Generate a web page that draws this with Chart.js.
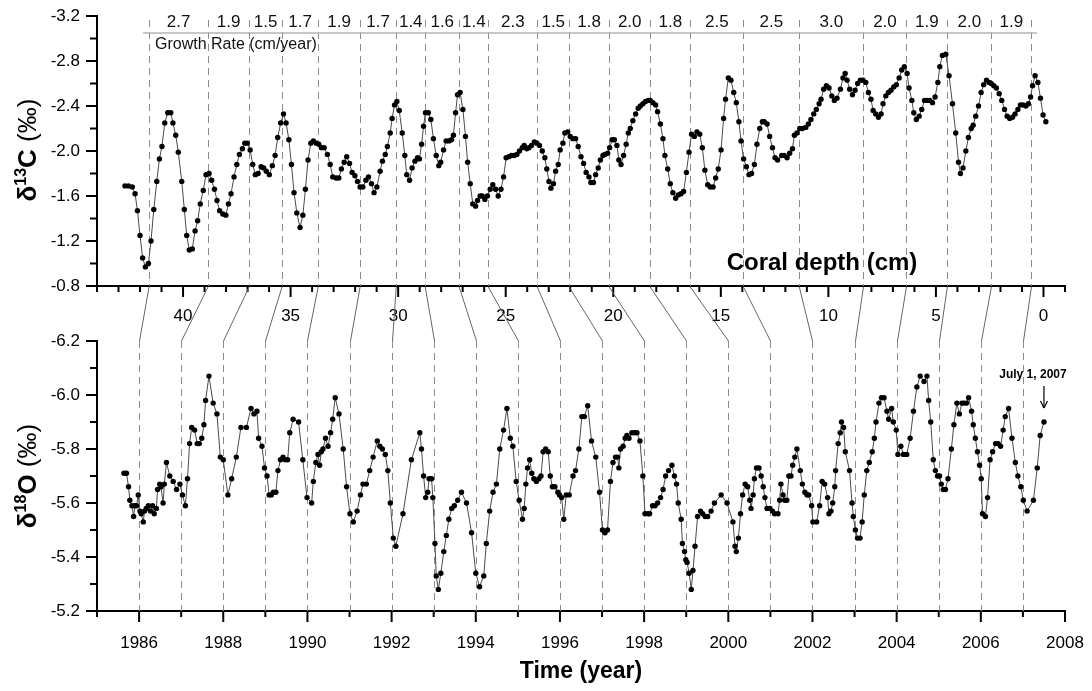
<!DOCTYPE html>
<html>
<head>
<meta charset="utf-8">
<script src="https://cdn.jsdelivr.net/npm/chart.js@4.4.0/dist/chart.umd.min.js"></script>
<style>
  html, body { margin: 0; padding: 0; background: #fff; }
  #wrap { position: relative; width: 1092px; height: 691px; }
  #wrap canvas { position: absolute; left: 0; top: 0; }
</style>
</head>
<body>
<div id="wrap">
  <canvas id="c13Chart" width="1092" height="691"></canvas>
  <canvas id="o18Chart" width="1092" height="691"></canvas>
</div>
<script>
// δ13C against coral depth (cm)
const c13Depth = [
  42.70, 42.54, 42.36, 42.23, 42.12, 42.00, 41.88, 41.75, 41.61, 41.49, 41.36, 41.22, 41.10, 40.98, 40.85, 40.71,
  40.57, 40.47, 40.34, 40.22, 40.06, 39.94, 39.83, 39.71, 39.57, 39.44, 39.32, 39.20, 39.06, 38.93, 38.79, 38.67,
  38.54, 38.42, 38.30, 38.15, 38.01, 37.89, 37.77, 37.63, 37.50, 37.38, 37.24, 37.13, 37.02, 36.88, 36.76, 36.64,
  36.51, 36.37, 36.25, 36.13, 35.99, 35.85, 35.72, 35.60, 35.46, 35.33, 35.21, 35.08, 34.96, 34.84, 34.71, 34.56,
  34.43, 34.31, 34.19, 34.06, 33.94, 33.81, 33.69, 33.57, 33.44, 33.29, 33.16, 33.04, 32.88, 32.76, 32.64, 32.51,
  32.39, 32.26, 32.14, 32.01, 31.89, 31.77, 31.64, 31.50, 31.38, 31.24, 31.12, 30.99, 30.84, 30.73, 30.60, 30.50,
  30.37, 30.28, 30.17, 30.06, 29.95,
  29.81, 29.69, 29.60, 29.47, 29.35, 29.22, 29.10, 29.01, 28.91, 28.82, 28.73, 28.60, 28.48, 28.36, 28.23, 28.11,
  28.02, 27.89, 27.77, 27.64, 27.52, 27.43, 27.33, 27.24, 27.12, 26.99, 26.87, 26.77, 26.65, 26.53, 26.40, 26.31,
  26.19, 26.09, 25.97, 25.85, 25.72, 25.60, 25.47, 25.35, 25.22, 25.10, 24.98, 24.85, 24.73, 24.60, 24.48, 24.36,
  24.23, 24.14, 24.02, 23.92, 23.80, 23.67, 23.55, 23.43, 23.30, 23.18, 23.09, 22.99, 22.90, 22.78, 22.68, 22.56,
  22.47, 22.34, 22.25, 22.12, 22.00, 21.88, 21.75, 21.63, 21.50, 21.38, 21.26, 21.13, 21.04, 20.92, 20.82, 20.70,
  20.60, 20.48, 20.39, 20.26, 20.17, 20.05, 19.95, 19.83, 19.74, 19.64, 19.52, 19.40, 19.30, 19.21, 19.09, 18.96,
  18.84, 18.74, 18.62, 18.50, 18.37, 18.28, 18.16, 18.03, 17.94, 17.81, 17.69, 17.60, 17.47, 17.35, 17.23, 17.10,
  16.98, 16.85, 16.73, 16.60, 16.48, 16.36, 16.23, 16.11, 15.98, 15.86, 15.74, 15.61, 15.49, 15.36, 15.24, 15.12,
  14.99, 14.87, 14.78, 14.65, 14.53, 14.40, 14.28, 14.16, 14.06, 13.94, 13.81, 13.69, 13.57, 13.44, 13.32, 13.19,
  13.07, 12.98, 12.85, 12.73, 12.60, 12.48, 12.36,
  12.17, 12.05, 11.92, 11.80, 11.67, 11.58, 11.46, 11.33, 11.21, 11.05, 10.93, 10.81, 10.68, 10.56, 10.43, 10.34,
  10.22, 10.09, 9.97, 9.84, 9.72, 9.60, 9.44, 9.32, 9.22, 9.13, 9.01, 8.88, 8.76, 8.64, 8.51, 8.39,
  8.26, 8.14, 8.02, 7.92, 7.80, 7.67, 7.55, 7.46, 7.33, 7.21, 7.09, 6.96, 6.84, 6.71, 6.59, 6.47,
  6.34, 6.25, 6.12, 6.03, 5.91, 5.78, 5.66, 5.53, 5.41, 5.29, 5.16, 5.04, 4.91, 4.82, 4.70, 4.54,
  4.39, 4.23, 4.08, 3.95, 3.86, 3.74, 3.61, 3.49, 3.36, 3.27, 3.15, 3.02, 2.90, 2.78, 2.65, 2.53,
  2.43, 2.31, 2.19, 2.06, 1.94, 1.81, 1.69, 1.57, 1.44, 1.32, 1.19, 1.07, 0.95, 0.82, 0.70, 0.60,
  0.51, 0.39, 0.26, 0.14, 0.02, -0.11
];
const c13Value = [
  -1.69, -1.69, -1.68, -1.62, -1.47, -1.25, -1.05, -0.97, -1.00, -1.20, -1.48, -1.73, -1.93, -2.04, -2.25, -2.34,
  -2.34, -2.25, -2.14, -1.99, -1.73, -1.48, -1.25, -1.12, -1.13, -1.29, -1.38, -1.53, -1.65, -1.79, -1.80, -1.74,
  -1.66, -1.56, -1.47, -1.44, -1.43, -1.53, -1.62, -1.77, -1.88, -1.97, -2.02, -2.07, -2.07, -2.01, -1.88, -1.79,
  -1.80, -1.86, -1.85, -1.82, -1.79, -1.87, -1.96, -2.12, -2.25, -2.33, -2.25, -2.10, -1.88, -1.63, -1.45, -1.32,
  -1.43, -1.66, -1.92, -2.07, -2.09, -2.07, -2.06, -2.03, -2.03, -1.97, -1.88, -1.77, -1.76, -1.76, -1.84, -1.90,
  -1.95, -1.89, -1.81, -1.78, -1.73, -1.68, -1.68, -1.74, -1.77, -1.71, -1.63, -1.68, -1.82, -1.91, -1.97, -2.04,
  -2.16, -2.29, -2.41, -2.44, -2.36,
  -2.16, -1.96, -1.79, -1.74, -1.85, -1.91, -1.94, -1.93, -2.06, -2.22, -2.34, -2.34, -2.28, -2.11, -1.96, -1.87,
  -1.90, -2.01, -2.09, -2.09, -2.10, -2.14, -2.34, -2.50, -2.52, -2.37, -2.13, -1.90, -1.71, -1.53, -1.51, -1.56,
  -1.60, -1.60, -1.57, -1.60, -1.66, -1.70, -1.66, -1.60, -1.66, -1.77, -1.94, -1.95, -1.96, -1.96, -1.97, -2.00,
  -2.03, -2.05, -2.02, -2.03, -2.05, -2.08, -2.07, -2.05, -2.00, -1.94, -1.84, -1.73, -1.67, -1.71, -1.82, -1.88,
  -2.01, -2.07, -2.16, -2.17, -2.13, -2.11, -2.11, -2.04, -1.95, -1.89, -1.81, -1.77, -1.72, -1.72, -1.79, -1.85,
  -1.92, -1.96, -1.97, -1.98, -2.03, -2.10, -2.10, -2.05, -1.92, -1.88, -1.96, -2.06, -2.16, -2.20, -2.27, -2.33,
  -2.38, -2.40, -2.42, -2.44, -2.45, -2.45, -2.43, -2.41, -2.35, -2.24, -2.11, -1.96, -1.84, -1.71, -1.63, -1.58,
  -1.61, -1.62, -1.64, -1.81, -1.99, -2.15, -2.13, -2.17, -2.15, -2.03, -1.83, -1.70, -1.68, -1.68, -1.76, -1.84,
  -2.01, -2.29, -2.46, -2.65, -2.63, -2.52, -2.43, -2.26, -2.09, -1.93, -1.86, -1.79, -1.80, -1.88, -2.06, -2.20,
  -2.26, -2.26, -2.24, -2.13, -2.03, -1.94, -1.92,
  -1.96, -1.96, -1.94, -1.98, -2.02, -2.14, -2.16, -2.20, -2.20, -2.21, -2.24, -2.28, -2.33, -2.37, -2.42, -2.46,
  -2.55, -2.58, -2.56, -2.49, -2.45, -2.47, -2.55, -2.65, -2.69, -2.63, -2.55, -2.50, -2.54, -2.60, -2.63, -2.63,
  -2.61, -2.52, -2.46, -2.36, -2.33, -2.30, -2.33, -2.42, -2.49, -2.52, -2.54, -2.57, -2.59, -2.65, -2.72, -2.75,
  -2.69, -2.56, -2.45, -2.34, -2.28, -2.31, -2.37, -2.45, -2.45, -2.45, -2.43, -2.48, -2.61, -2.75, -2.85, -2.86,
  -2.67, -2.42, -2.16, -1.90, -1.80, -1.85, -2.00, -2.12, -2.20, -2.23, -2.31, -2.40, -2.52, -2.59, -2.63, -2.61,
  -2.60, -2.58, -2.56, -2.51, -2.45, -2.37, -2.31, -2.29, -2.30, -2.33, -2.37, -2.41, -2.41, -2.40, -2.42, -2.48,
  -2.58, -2.67, -2.61, -2.47, -2.32, -2.26
];

// δ18O against time (year)
const o18Year = [
  1985.64, 1985.70, 1985.75, 1985.78, 1985.83, 1985.87, 1985.90, 1985.94, 1985.98, 1986.02, 1986.05, 1986.10,
  1986.13, 1986.17, 1986.22, 1986.27, 1986.32, 1986.36, 1986.41, 1986.44, 1986.49, 1986.52, 1986.57, 1986.60,
  1986.65, 1986.73, 1986.81, 1986.89, 1986.97, 1987.03, 1987.10, 1987.15, 1987.20, 1987.25, 1987.32, 1987.38,
  1987.43, 1987.49, 1987.54, 1987.58, 1987.66, 1987.76, 1987.85, 1987.93, 1988.00, 1988.11, 1988.20, 1988.31,
  1988.42, 1988.55, 1988.66, 1988.73, 1988.80, 1988.84, 1988.92, 1988.98, 1989.04, 1989.09, 1989.14, 1989.19,
  1989.25, 1989.30, 1989.36, 1989.42, 1989.47, 1989.53, 1989.58, 1989.66, 1989.79, 1989.89, 1989.99, 1990.10,
  1990.14, 1990.20, 1990.25, 1990.29, 1990.33, 1990.37, 1990.43, 1990.49, 1990.55, 1990.60, 1990.66, 1990.75,
  1990.85, 1990.93, 1991.01, 1991.09, 1991.18, 1991.26, 1991.32, 1991.40, 1991.48, 1991.56, 1991.66, 1991.72,
  1991.78, 1991.85, 1991.91, 1991.97, 1992.04, 1992.10,
  1992.27, 1992.47, 1992.67, 1992.71, 1992.76, 1992.81, 1992.86, 1992.89, 1992.95, 1992.98, 1993.03, 1993.06,
  1993.11, 1993.17, 1993.24, 1993.30, 1993.36, 1993.43, 1993.49, 1993.57, 1993.66, 1993.78, 1993.90, 1994.00,
  1994.09, 1994.19, 1994.25, 1994.33, 1994.41, 1994.49, 1994.57, 1994.66, 1994.74, 1994.82, 1994.88, 1994.96,
  1995.03, 1995.11, 1995.15, 1995.19, 1995.23, 1995.28, 1995.33, 1995.38, 1995.44, 1995.50, 1995.55, 1995.60,
  1995.66, 1995.72, 1995.77, 1995.82, 1995.88, 1995.95, 1995.99, 1996.04, 1996.09, 1996.15, 1996.22, 1996.31,
  1996.37, 1996.45, 1996.52, 1996.58, 1996.66, 1996.75, 1996.85, 1996.94, 1997.01, 1997.07, 1997.13, 1997.20,
  1997.26, 1997.32, 1997.37, 1997.40, 1997.44, 1997.50, 1997.55, 1997.59, 1997.64, 1997.71, 1997.77, 1997.83,
  1997.90, 1997.97, 1998.02, 1998.09, 1998.13, 1998.20, 1998.26, 1998.32, 1998.39, 1998.45, 1998.51, 1998.58,
  1998.66, 1998.72, 1998.77, 1998.81, 1998.88, 1998.91, 1998.96, 1998.99, 1999.02, 1999.07, 1999.12, 1999.16,
  1999.21, 1999.27, 1999.34, 1999.39, 1999.45, 1999.51, 1999.59, 1999.67, 1999.83, 1999.97, 2000.11, 2000.16,
  2000.19, 2000.24, 2000.29, 2000.34, 2000.40, 2000.46, 2000.51, 2000.54, 2000.59, 2000.62, 2000.67, 2000.73,
  2000.78, 2000.83, 2000.87, 2000.92, 2000.99, 2001.05, 2001.10, 2001.18,
  2001.22, 2001.25, 2001.30, 2001.34, 2001.39, 2001.44, 2001.49, 2001.53, 2001.58, 2001.63, 2001.71, 2001.76,
  2001.82, 2001.87, 2001.91, 2001.98, 2002.01, 2002.10, 2002.17, 2002.23, 2002.29, 2002.36, 2002.39, 2002.44,
  2002.48, 2002.53, 2002.55, 2002.61, 2002.66, 2002.69, 2002.74, 2002.78, 2002.88, 2002.94, 2002.97, 2003.02,
  2003.07, 2003.13, 2003.18, 2003.23, 2003.29, 2003.35, 2003.42, 2003.47, 2003.51, 2003.58, 2003.64, 2003.70,
  2003.77, 2003.81, 2003.88, 2003.92, 2003.99, 2004.03, 2004.10, 2004.16, 2004.24, 2004.32, 2004.40, 2004.48,
  2004.56, 2004.65, 2004.72, 2004.76, 2004.81, 2004.87, 2004.92, 2004.97, 2005.02, 2005.06, 2005.11, 2005.16,
  2005.22, 2005.30, 2005.36, 2005.43, 2005.49, 2005.55, 2005.60, 2005.66, 2005.71, 2005.78, 2005.82, 2005.87,
  2005.92, 2005.97, 2006.01, 2006.04, 2006.11, 2006.16, 2006.22, 2006.28, 2006.35, 2006.41, 2006.47, 2006.53,
  2006.58, 2006.66, 2006.74, 2006.82, 2006.88, 2006.95, 2007.01, 2007.10, 2007.25, 2007.34, 2007.41, 2007.50
];
const o18Value = [
  -5.71, -5.71, -5.66, -5.61, -5.59, -5.55, -5.59, -5.59, -5.63, -5.57, -5.56, -5.53,
  -5.57, -5.58, -5.59, -5.57, -5.59, -5.56, -5.58, -5.65, -5.67, -5.66, -5.60, -5.67,
  -5.75, -5.70, -5.68, -5.65, -5.67, -5.63, -5.59, -5.69, -5.82, -5.88, -5.87, -5.82,
  -5.82, -5.84, -5.89, -5.98, -6.07, -5.97, -5.93, -5.77, -5.76, -5.63, -5.69, -5.77,
  -5.88, -5.88, -5.95, -5.93, -5.94, -5.84, -5.81, -5.73, -5.70, -5.63, -5.63, -5.64,
  -5.64, -5.72, -5.76, -5.77, -5.76, -5.76, -5.86, -5.91, -5.90, -5.76, -5.62, -5.60,
  -5.68, -5.75, -5.78, -5.74, -5.79, -5.80, -5.84, -5.81, -5.86, -5.91, -5.99, -5.93,
  -5.80, -5.66, -5.56, -5.53, -5.57, -5.63, -5.67, -5.67, -5.72, -5.77, -5.83, -5.81,
  -5.80, -5.78, -5.72, -5.60, -5.47, -5.44,
  -5.56, -5.76, -5.86, -5.80, -5.70, -5.62, -5.64, -5.69, -5.69, -5.62, -5.45, -5.33,
  -5.28, -5.34, -5.42, -5.48, -5.54, -5.58, -5.59, -5.61, -5.64, -5.60, -5.49, -5.34,
  -5.29, -5.33, -5.45, -5.57, -5.64, -5.67, -5.80, -5.87, -5.95, -5.84, -5.81, -5.68,
  -5.61, -5.54, -5.58, -5.67, -5.73, -5.76, -5.71, -5.69, -5.68, -5.69, -5.70, -5.79,
  -5.80, -5.79, -5.70, -5.66, -5.66, -5.64, -5.63, -5.62, -5.54, -5.63, -5.63, -5.70,
  -5.72, -5.80, -5.92, -5.92, -5.96, -5.83, -5.77, -5.64, -5.50, -5.49, -5.50, -5.68,
  -5.75, -5.77, -5.77, -5.73, -5.80, -5.81, -5.84, -5.85, -5.84, -5.86, -5.86, -5.86,
  -5.83, -5.70, -5.56, -5.56, -5.56, -5.59, -5.59, -5.60, -5.62, -5.65, -5.70, -5.72,
  -5.74, -5.70, -5.67, -5.60, -5.54, -5.45, -5.42, -5.39, -5.38, -5.34, -5.28, -5.35,
  -5.44, -5.55, -5.57, -5.56, -5.55, -5.55, -5.57, -5.60, -5.63, -5.60, -5.53, -5.44,
  -5.42, -5.47, -5.56, -5.63, -5.67, -5.66, -5.61, -5.58, -5.63, -5.69, -5.73, -5.73,
  -5.70, -5.66, -5.62, -5.58, -5.58, -5.57, -5.56, -5.56,
  -5.61, -5.67, -5.63, -5.61, -5.61, -5.70, -5.70, -5.74, -5.77, -5.80, -5.72, -5.67,
  -5.64, -5.63, -5.63, -5.59, -5.53, -5.53, -5.59, -5.68, -5.67, -5.62, -5.56, -5.57,
  -5.60, -5.66, -5.72, -5.82, -5.86, -5.90, -5.88, -5.79, -5.72, -5.60, -5.55, -5.50,
  -5.47, -5.47, -5.53, -5.63, -5.72, -5.75, -5.79, -5.84, -5.90, -5.97, -5.99, -5.99,
  -5.94, -5.91, -5.95, -5.90, -5.87, -5.78, -5.81, -5.78, -5.78, -5.84, -5.94, -6.03,
  -6.07, -6.05, -6.07, -5.98, -5.90, -5.76, -5.72, -5.70, -5.70, -5.67, -5.65, -5.65,
  -5.69, -5.80, -5.89, -5.97, -5.93, -5.97, -5.97, -5.97, -5.99, -5.94, -5.89, -5.84,
  -5.79, -5.74, -5.69, -5.56, -5.55, -5.62, -5.76, -5.79, -5.82, -5.82, -5.81, -5.87,
  -5.92, -5.95, -5.84, -5.75, -5.70, -5.66, -5.61, -5.57, -5.61, -5.73, -5.85, -5.90
];

// 1 January of each year: depth in the core and the calendar year it maps to
const boundaryYears = [1986, 1987, 1988, 1989, 1990, 1991, 1992, 1993, 1994, 1995, 1996,
  1997, 1998, 1999, 2000, 2001, 2002, 2003, 2004, 2005, 2006, 2007];
const boundaryDepths = [41.58, 38.84, 36.93, 35.40, 33.72, 31.77, 30.09, 28.74, 27.16, 25.81, 23.53,
  22.05, 20.19, 18.28, 16.42, 13.95, 11.35, 8.37, 6.37, 4.47, 2.42, 0.56];
const growthRates = ['2.7', '1.9', '1.5', '1.7', '1.9', '1.7', '1.4', '1.6', '1.4', '2.3', '1.5',
  '1.8', '2.0', '1.8', '2.5', '2.5', '3.0', '2.0', '1.9', '2.0', '1.9'];

const FONT = "'Liberation Sans', Arial, sans-serif";
const W = 1092, H = 691;

function line(ctx, x1, y1, x2, y2) {
  ctx.beginPath();
  ctx.moveTo(x1, y1);
  ctx.lineTo(x2, y2);
  ctx.stroke();
}

// stop the axes from pushing the plot area in for half-labels at the ends
function noEdgePadding(s) {
  s.paddingTop = 0; s.paddingBottom = 0; s.paddingLeft = 0; s.paddingRight = 0;
}

// rotated axis title made of bold / normal / superscript parts
function drawYTitle(ctx, cx, cy, parts) {
  ctx.save();
  ctx.translate(cx, cy);
  ctx.rotate(-Math.PI / 2);
  ctx.fillStyle = '#000';
  ctx.textBaseline = 'alphabetic';
  let total = 0;
  parts.forEach(p => { ctx.font = p.font; p.w = ctx.measureText(p.text).width; total += p.w; });
  let x = -total / 2;
  parts.forEach(p => {
    ctx.font = p.font;
    ctx.fillText(p.text, x, 9 + (p.dy || 0));
    x += p.w;
  });
  ctx.restore();
}

// outward tick marks, longer on the labelled ones
function drawTicks(chart, isMajorX) {
  const {ctx} = chart;
  const xs = chart.scales.x, ys = chart.scales.y;
  ctx.save();
  ctx.strokeStyle = '#000';
  ctx.lineWidth = 2;
  xs.ticks.forEach(t => {
    const px = xs.getPixelForValue(t.value);
    line(ctx, px, xs.top, px, xs.top + (isMajorX(t.value) ? 11 : 6));
  });
  ys.ticks.forEach((t, i) => {
    const py = ys.getPixelForValue(t.value);
    line(ctx, ys.right - (i % 2 === 0 ? 11 : 7), py, ys.right, py);
  });
  ctx.restore();
}

function yAxis(min, max, step) {
  return {
    type: 'linear', min: min, max: max, reverse: true,
    afterFit: s => { s.width = 97; noEdgePadding(s); },
    grid: {display: false, drawTicks: false},
    border: {display: true, color: '#000', width: 2},
    ticks: {
      stepSize: step, autoSkip: false, padding: 17, color: '#000',
      font: {family: FONT, size: 17},
      callback: (v, i) => (i % 2 === 0 ? v.toFixed(1) : '')
    }
  };
}

const lineStyle = {
  borderColor: '#4a4a4a', borderWidth: 1, pointRadius: 2.7, pointHoverRadius: 2.7,
  pointBackgroundColor: '#000', pointBorderWidth: 0, tension: 0, fill: false
};

// ---------- top panel: δ13C vs coral depth ----------
const topDecor = {
  id: 'topDecor',
  beforeDatasetsDraw(chart) {
    const {ctx, chartArea} = chart;
    const xs = chart.scales.x;
    ctx.save();
    ctx.strokeStyle = '#8c8c8c';
    ctx.lineWidth = 1;
    ctx.setLineDash([7, 5]);
    boundaryDepths.forEach(d => {
      const px = Math.round(xs.getPixelForValue(d)) + 0.5;
      line(ctx, px, chartArea.top + 4, px, chartArea.bottom);
    });
    ctx.restore();
  },
  afterDraw(chart) {
    const {ctx, chartArea} = chart;
    const xs = chart.scales.x;
    ctx.save();
    // growth rate band
    ctx.strokeStyle = '#b4b4b4';
    ctx.lineWidth = 1.5;
    line(ctx, 143, chartArea.top + 17, 1037, chartArea.top + 17);
    ctx.fillStyle = '#111';
    ctx.font = '17px ' + FONT;
    ctx.textAlign = 'center';
    ctx.textBaseline = 'middle';
    growthRates.forEach((g, i) => {
      const a = xs.getPixelForValue(boundaryDepths[i]);
      const b = xs.getPixelForValue(boundaryDepths[i + 1]);
      ctx.fillText(g, (a + b) / 2, chartArea.top + 6);
    });
    ctx.textAlign = 'left';
    ctx.font = '16px ' + FONT;
    ctx.fillText('Growth Rate (cm/year)', 155, chartArea.top + 29);
    // depth axis title inside the plot
    ctx.textAlign = 'center';
    ctx.fillStyle = '#000';
    ctx.font = 'bold 24px ' + FONT;
    ctx.fillText('Coral depth (cm)', 822, 263);
    ctx.restore();

    drawTicks(chart, v => Math.round(v) % 5 === 0);
    drawYTitle(ctx, 27, 150, [
      {text: 'δ', font: 'bold 26px ' + FONT},
      {text: '13', font: 'bold 16px ' + FONT, dy: -10},
      {text: 'C', font: 'bold 26px ' + FONT},
      {text: ' (‰)', font: '26px ' + FONT}
    ]);
  }
};

const c13Chart = new Chart(document.getElementById('c13Chart'), {
  type: 'line',
  data: {
    datasets: [Object.assign({
      label: 'δ13C',
      data: c13Depth.map((d, i) => ({x: d, y: c13Value[i]}))
    }, lineStyle)]
  },
  options: {
    responsive: false, animation: false,
    layout: {padding: {left: 0, top: 16, right: 27, bottom: H - 286 - 50}, autoPadding: false},
    plugins: {legend: {display: false}, tooltip: {enabled: false}},
    scales: {
      x: {
        type: 'linear', position: 'bottom', min: -1, max: 44, reverse: true,
        afterFit: s => { s.height = 50; noEdgePadding(s); },
        grid: {display: false, drawTicks: false},
        border: {display: true, color: '#000', width: 2},
        ticks: {
          stepSize: 1, autoSkip: false, maxRotation: 0, padding: 20, color: '#000',
          font: {family: FONT, size: 17},
          callback: v => (v >= 0 && v % 5 === 0 ? String(v) : '')
        }
      },
      y: yAxis(-3.2, -0.8, 0.2)
    }
  },
  plugins: [topDecor]
});

// ---------- bottom panel: δ18O vs time ----------
const bottomDecor = {
  id: 'bottomDecor',
  beforeDatasetsDraw(chart) {
    const {ctx, chartArea} = chart;
    const xs = chart.scales.x;
    const topX = c13Chart.scales.x;
    const topBottom = c13Chart.chartArea.bottom + 1;
    ctx.save();
    // links between depth of each 1 January and the calendar year
    ctx.strokeStyle = '#666';
    ctx.lineWidth = 1;
    boundaryYears.forEach((yr, i) => {
      line(ctx, topX.getPixelForValue(boundaryDepths[i]), topBottom,
        Math.round(xs.getPixelForValue(yr)) + 0.5, chartArea.top);
    });
    ctx.strokeStyle = '#8c8c8c';
    ctx.setLineDash([7, 5]);
    boundaryYears.forEach(yr => {
      const px = Math.round(xs.getPixelForValue(yr)) + 0.5;
      line(ctx, px, chartArea.top, px, chartArea.bottom);
    });
    ctx.restore();
  },
  afterDraw(chart) {
    const {ctx} = chart;
    const xs = chart.scales.x, ys = chart.scales.y;
    const last = o18Year.length - 1;
    const px = xs.getPixelForValue(o18Year[last]);
    const py = ys.getPixelForValue(o18Value[last]);
    ctx.save();
    ctx.fillStyle = '#000';
    ctx.font = 'bold 12px ' + FONT;
    ctx.textAlign = 'center';
    ctx.textBaseline = 'middle';
    ctx.fillText('July 1, 2007', px - 11, py - 47);
    ctx.strokeStyle = '#000';
    ctx.lineWidth = 1.2;
    line(ctx, px, py - 36, px, py - 14);
    line(ctx, px - 3.5, py - 21, px, py - 14);
    line(ctx, px + 3.5, py - 21, px, py - 14);
    ctx.restore();

    drawTicks(chart, v => Math.round(v) % 2 === 0);
    drawYTitle(ctx, 27, 476, [
      {text: 'δ', font: 'bold 26px ' + FONT},
      {text: '18', font: 'bold 16px ' + FONT, dy: -10},
      {text: 'O', font: 'bold 26px ' + FONT},
      {text: ' (‰)', font: '26px ' + FONT}
    ]);
  }
};

const o18Chart = new Chart(document.getElementById('o18Chart'), {
  type: 'line',
  data: {
    datasets: [Object.assign({
      label: 'δ18O',
      data: o18Year.map((t, i) => ({x: t, y: o18Value[i]}))
    }, lineStyle)]
  },
  options: {
    responsive: false, animation: false,
    layout: {padding: {left: 0, top: 341, right: 27, bottom: 0}, autoPadding: false},
    plugins: {legend: {display: false}, tooltip: {enabled: false}},
    scales: {
      x: {
        type: 'linear', position: 'bottom', min: 1985, max: 2008,
        afterFit: s => { s.height = H - 611; noEdgePadding(s); },
        grid: {display: false, drawTicks: false},
        border: {display: true, color: '#000', width: 2},
        ticks: {
          stepSize: 1, autoSkip: false, maxRotation: 0, padding: 22, color: '#000',
          font: {family: FONT, size: 17},
          callback: v => (v % 2 === 0 ? String(v) : '')
        },
        title: {
          display: true, text: 'Time (year)', color: '#000',
          font: {family: FONT, size: 23, weight: 'bold'},
          padding: {top: 0, bottom: 6}
        }
      },
      y: yAxis(-6.2, -5.2, 0.1)
    }
  },
  plugins: [bottomDecor]
});
</script>
</body>
</html>
